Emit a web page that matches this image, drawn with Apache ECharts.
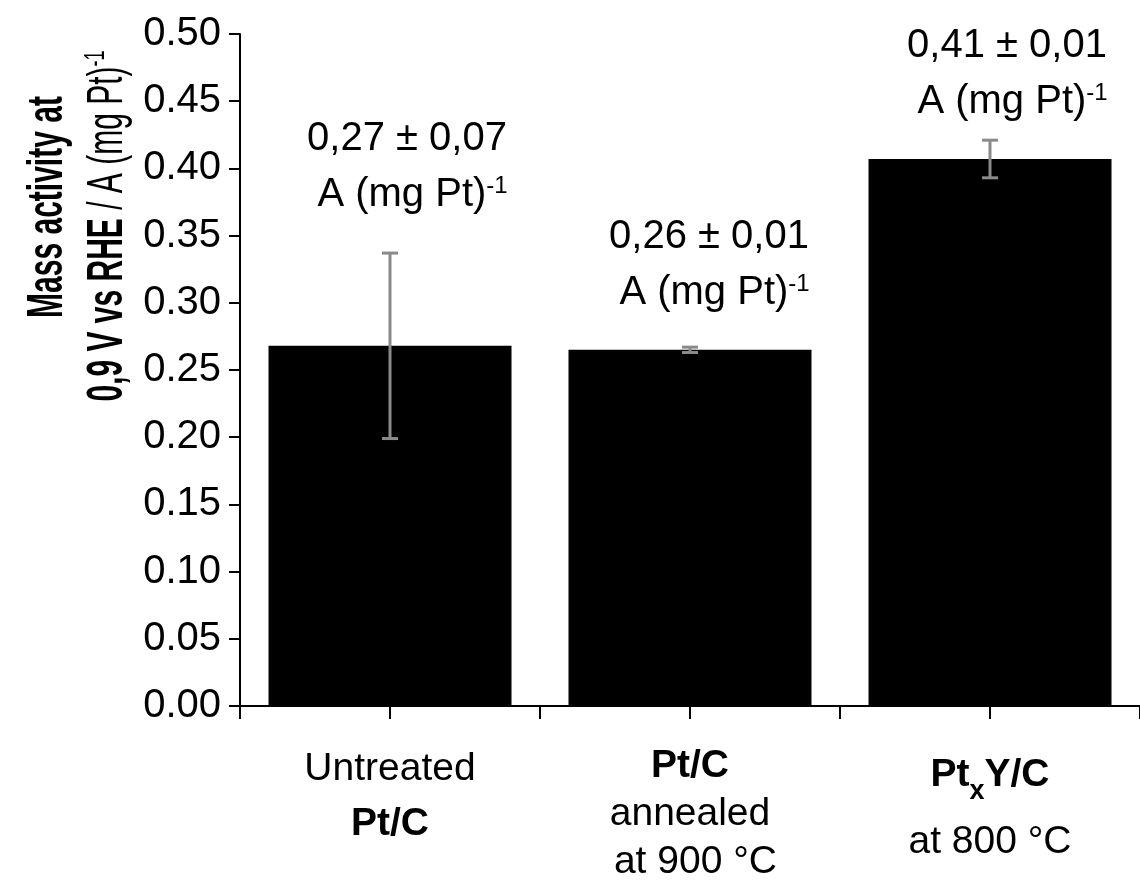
<!DOCTYPE html>
<html>
<head>
<meta charset="utf-8">
<script src="https://cdn.jsdelivr.net/npm/echarts@6/dist/echarts.min.js"></script>
<style>
  html, body { margin: 0; padding: 0; background: #fff; }
  #chart { width: 1140px; height: 887px; }
</style>
</head>
<body>
<div id="chart"></div>
<script>
// Catalysts compared
const categories = ['Untreated Pt/C', 'Pt/C annealed at 900 °C', 'PtxY/C at 800 °C'];

// Category labels (rich text: n = regular, b = bold, sub = subscript)
const categoryLabels = [
  '{n1|Untreated}\n{b1|Pt/C}',
  '{b2|Pt/C}\n{n2|annealed}\n{n2| at 900 °C}',
  '{b3|Pt}{sub|x}{b3|Y/C}\n{n3|at 800 °C}'
];

// Mass activity at 0.9 V vs RHE, A (mg Pt)^-1
const massActivity = [0.268, 0.265, 0.407];
// Standard deviation of each mean
const errors = [0.069, 0.002, 0.014];

// Annotated values above the bars
const valueLabels = ['0,27 ± 0,07', '0,26 ± 0,01', '0,41 ± 0,01'];
const unitLabel = ' A (mg Pt)';
const unitExponent = '-1';

// Y axis tick labels
const yTicks = ['0.00', '0.05', '0.10', '0.15', '0.20', '0.25', '0.30', '0.35', '0.40', '0.45', '0.50'];

const SANS = '"Liberation Sans", Arial, Helvetica, sans-serif';

// Pixel offsets [dx, dy] of each value annotation from the top of its error bar
const labelOffsets = [[17, -86], [19, -82], [17, -66]];

const valueRich = {
  v: { fontSize: 40, fontFamily: SANS, color: '#000', lineHeight: 56 },
  sup: { fontSize: 24, fontFamily: SANS, color: '#000', padding: [0, 0, 18, 0] }
};

const catRich = {
  n1: { fontSize: 39, fontFamily: SANS, color: '#000', lineHeight: 55 },
  b1: { fontSize: 39, fontFamily: SANS, fontWeight: 'bold', color: '#000', lineHeight: 55 },
  n2: { fontSize: 39, fontFamily: SANS, color: '#000', lineHeight: 48 },
  b2: { fontSize: 39, fontFamily: SANS, fontWeight: 'bold', color: '#000', lineHeight: 48 },
  n3: { fontSize: 39, fontFamily: SANS, color: '#000', lineHeight: 67 },
  b3: { fontSize: 39, fontFamily: SANS, fontWeight: 'bold', color: '#000', lineHeight: 67 },
  sub: { fontSize: 27, fontFamily: SANS, fontWeight: 'bold', color: '#000', padding: [32, 0, 0, 0] }
};

const ERR_COLOR = '#8a8a8a';

function renderErrorBar(params, api) {
  const i = api.value(0);
  const v = api.value(1);
  const e = api.value(2);
  const hi = api.coord([i, v + e]);
  const lo = api.coord([i, v - e]);
  const cap = 8;
  const off = labelOffsets[params.dataIndex];
  const errStyle = { stroke: ERR_COLOR, lineWidth: 3 };
  return {
    type: 'group',
    children: [
      { type: 'line', shape: { x1: hi[0], y1: hi[1], x2: lo[0], y2: lo[1] }, style: errStyle },
      { type: 'line', shape: { x1: hi[0] - cap, y1: hi[1], x2: hi[0] + cap, y2: hi[1] }, style: errStyle },
      { type: 'line', shape: { x1: lo[0] - cap, y1: lo[1], x2: lo[0] + cap, y2: lo[1] }, style: errStyle },
      {
        type: 'text',
        x: hi[0] + off[0],
        y: hi[1] + off[1],
        style: {
          text: '{v|' + valueLabels[params.dataIndex] + '}\n{v|' + unitLabel + '}{sup|' + unitExponent + '}',
          rich: valueRich,
          align: 'center',
          verticalAlign: 'middle',
          fill: '#000'
        }
      }
    ]
  };
}

const chart = echarts.init(document.getElementById('chart'), null, { renderer: 'canvas' });

const axisLineStyle = { color: '#000', width: 2 };

chart.setOption({
  animation: false,
  backgroundColor: '#fff',
  grid: { left: 240, top: 34, width: 905, height: 672, containLabel: false },
  xAxis: [
    {
      type: 'category',
      data: categories,
      axisLine: { show: true, lineStyle: axisLineStyle },
      axisTick: { show: true, alignWithLabel: false, interval: 0, length: 13, lineStyle: axisLineStyle },
      axisLabel: {
        margin: 36,
        interval: 0,
        formatter: function (value, idx) { return categoryLabels[idx]; },
        rich: catRich
      }
    },
    {
      type: 'category',
      data: categories,
      position: 'bottom',
      axisLine: { show: false },
      axisTick: { show: true, alignWithLabel: true, interval: 0, length: 13, lineStyle: axisLineStyle },
      axisLabel: { show: false }
    }
  ],
  yAxis: {
    type: 'value',
    min: 0,
    max: 0.5,
    interval: 0.05,
    axisLine: { show: true, lineStyle: axisLineStyle },
    axisTick: { show: true, length: 11, lineStyle: axisLineStyle },
    splitLine: { show: false },
    axisLabel: {
      margin: 19,
      color: '#000',
      fontSize: 40,
      fontFamily: SANS,
      formatter: function (v) { return yTicks[Math.round(v / 0.05)]; }
    }
  },
  graphic: [
    {
      type: 'text',
      x: 48,
      y: 207,
      rotation: Math.PI / 2,
      scaleX: 0.6,
      style: {
        text: 'Mass activity at',
        font: 'bold 50px ' + SANS,
        fill: '#000',
        align: 'center',
        verticalAlign: 'middle'
      }
    },
    {
      type: 'text',
      x: 108,
      y: 226,
      rotation: Math.PI / 2,
      scaleX: 0.6,
      style: {
        text: '{b|0,9 V vs RHE}{r| / A (mg Pt)}{s|-1}',
        rich: {
          b: { fontSize: 50, fontWeight: 'bold', fontFamily: SANS, color: '#000', lineHeight: 60 },
          r: { fontSize: 50, fontFamily: SANS, color: '#000', lineHeight: 60 },
          s: { fontSize: 30, fontFamily: SANS, color: '#000', padding: [0, 0, 24, 0] }
        },
        align: 'center',
        verticalAlign: 'middle'
      }
    }
  ],
  series: [
    {
      type: 'bar',
      data: massActivity,
      barWidth: '81%',
      itemStyle: { color: '#000' },
      z: 2
    },
    {
      type: 'custom',
      data: massActivity.map(function (v, i) { return [i, v, errors[i]]; }),
      renderItem: renderErrorBar,
      z: 10
    }
  ]
});
</script>
</body>
</html>
